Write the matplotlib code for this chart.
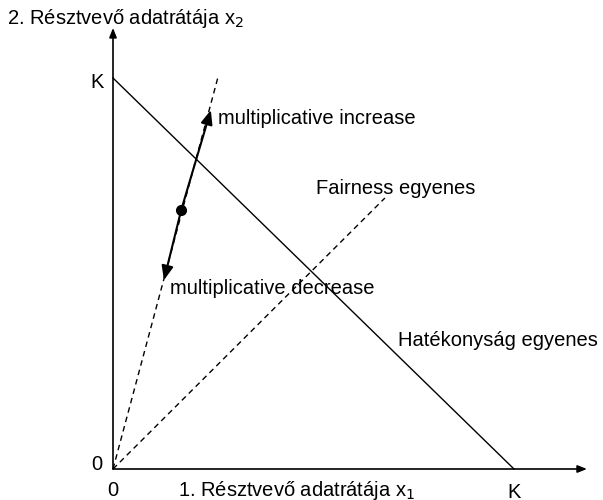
import matplotlib
matplotlib.use("Agg")
import matplotlib.pyplot as plt

plt.rcParams['font.family'] = ['Liberation Sans', 'DejaVu Sans']

K = 1.0
# axis extents (in units of K)
x_axis_end = 1.182
y_axis_end = 1.128
# efficiency line (x1 + x2 = K)
eff_x = [0.0, K]
eff_y = [K, 0.0]
# fairness line (x1 = x2)
fair_x = [0.0, 0.678]
fair_y = [0.0, 0.693]
# ray through the operating point
ray_x = [0.0, 0.262]
ray_y = [0.0, 1.003]
# operating point and multiplicative moves
point = (0.170, 0.662)
inc_tip = (0.244, 0.918)
dec_tip = (0.127, 0.483)

fig = plt.figure(figsize=(6.03, 5.0), dpi=100)
ax = fig.add_axes([0, 0, 1, 1])
ax.set_xlim(-113/401, (603-113)/401)
ax.set_ylim(-31/391, 469/391)
ax.axis('off')

lw = 1.0
# axes with arrows
ax.annotate('', xy=(x_axis_end, 0), xytext=(0, 0),
            arrowprops=dict(arrowstyle='-|>,head_length=0.55,head_width=0.22', color='black', lw=1.2, shrinkA=0, shrinkB=0))
ax.annotate('', xy=(0, y_axis_end), xytext=(0, 0),
            arrowprops=dict(arrowstyle='-|>,head_length=0.55,head_width=0.22', color='black', lw=1.2, shrinkA=0, shrinkB=0))

ax.plot(eff_x, eff_y, color='black', lw=lw)
ax.plot(fair_x, fair_y, color='black', lw=lw, ls=(0, (4, 3)))
ax.plot(ray_x, ray_y, color='black', lw=lw, ls=(0, (4, 3)))

ax.annotate('', xy=inc_tip, xytext=point,
            arrowprops=dict(arrowstyle='-|>,head_length=0.85,head_width=0.35', color='black', lw=1.5, shrinkA=0, shrinkB=0))
ax.annotate('', xy=dec_tip, xytext=point,
            arrowprops=dict(arrowstyle='-|>,head_length=0.85,head_width=0.35', color='black', lw=1.5, shrinkA=0, shrinkB=0))
ax.plot([point[0]], [point[1]], 'o', color='black', ms=7)

fs = 14.5
ax.text(-113/401 + 7/401, (469-19)/391, '2. Résztvevő adatrátája x$_2$', fontsize=fs, ha='left', va='center')
ax.text(-16/401, (469-82)/391, 'K', fontsize=fs, ha='center', va='center')
ax.text(-16/401, (469-465)/391, '0', fontsize=fs, ha='center', va='center')
ax.text(0, -21/391, '0', fontsize=fs, ha='center', va='center')
ax.text(K, -23/391, 'K', fontsize=fs, ha='center', va='center')
ax.text((296-113)/401, -21/391, '1. Résztvevő adatrátája x$_1$', fontsize=fs, ha='center', va='center')
ax.text((218-113)/401, (469-118)/391, 'multiplicative increase', fontsize=fs, ha='left', va='center')
ax.text((316-113)/401, (469-188)/391, 'Fairness egyenes', fontsize=fs, ha='left', va='center')
ax.text((170-113)/401, (469-288)/391, 'multiplicative decrease', fontsize=fs, ha='left', va='center')
ax.text((398-113)/401, (469-340)/391, 'Hatékonyság egyenes', fontsize=fs, ha='left', va='center')

fig.savefig('out.png', dpi=100)
